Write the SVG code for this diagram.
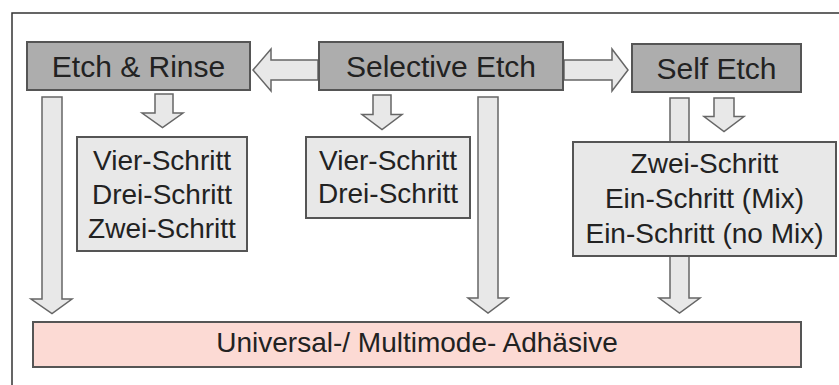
<svg xmlns="http://www.w3.org/2000/svg" width="839" height="385" viewBox="0 0 839 385">
<style>
.hdr{fill:#adadad;stroke:#555;stroke-width:2}
.lst{fill:#e8e8e8;stroke:#555;stroke-width:2}
.uni{fill:#fcdad4;stroke:#555;stroke-width:2}
.arr{fill:#e8e8e8;stroke:#666;stroke-width:1.5;stroke-linejoin:miter}
text{font-family:"Liberation Sans",Arial,sans-serif;fill:#222;text-anchor:middle}
.h{font-size:30px}
.t{font-size:28px}
</style>
<rect width="839" height="385" fill="#fff"/>
<path d="M12,385 V13 H839" fill="none" stroke="#333" stroke-width="1.5"/>
<g id="connectors">
<polygon class="arr" points="253,70 271,49 271,60 318,60 318,80 271,80 271,91"/>
<polygon class="arr" points="564,60 612,60 612,49 628,70 612,91 612,80 564,80"/>
<polygon class="arr" points="155,94 173,94 173,113 183,113 162.5,127.5 142,113 155,113"/>
<polygon class="arr" points="373,95 391,95 391,114.5 402,114.5 382,129.5 362,114.5 373,114.5"/>
<polygon class="arr" points="714,98 734,98 734,116.5 744,116.5 724,131.5 704,116.5 714,116.5"/>
<polygon class="arr" points="42,97 62,97 62,299 72,299 52,313.5 31,299 42,299"/>
<polygon class="arr" points="478,97 498,97 498,298 508,298 488,313 468,298 478,298"/>
<polygon class="arr" points="670,98 689,98 689,298 700,298 679.5,313 659,298 670,298"/>
</g>
<g id="etch-rinse">
<rect class="hdr" x="27" y="42" width="223" height="48"/>
<text class="h" x="138.5" y="77">Etch &amp; Rinse</text>
</g>
<g id="selective-etch">
<rect class="hdr" x="319" y="42" width="244" height="48"/>
<text class="h" x="441" y="77">Selective Etch</text>
</g>
<g id="self-etch">
<rect class="hdr" x="632" y="44" width="169" height="48"/>
<text class="h" x="716.5" y="79">Self Etch</text>
</g>
<g id="etch-rinse-steps">
<rect class="lst" x="77" y="137" width="170" height="114"/>
<text class="t" x="162" y="170">Vier-Schritt</text>
<text class="t" x="162" y="204">Drei-Schritt</text>
<text class="t" x="162" y="238">Zwei-Schritt</text>
</g>
<g id="selective-steps">
<rect class="lst" x="306" y="137" width="164" height="81"/>
<text class="t" x="388" y="170">Vier-Schritt</text>
<text class="t" x="388" y="203">Drei-Schritt</text>
</g>
<g id="self-etch-steps">
<rect class="lst" x="573" y="142" width="263" height="114"/>
<text class="t" x="704.5" y="173">Zwei-Schritt</text>
<text class="t" x="704.5" y="208">Ein-Schritt (Mix)</text>
<text class="t" x="704.5" y="243">Ein-Schritt (no Mix)</text>
</g>
<g id="universal">
<rect class="uni" x="33" y="322" width="768" height="45"/>
<text class="t" x="417" y="352">Universal-/ Multimode- Adhäsive</text>
</g>
</svg>
